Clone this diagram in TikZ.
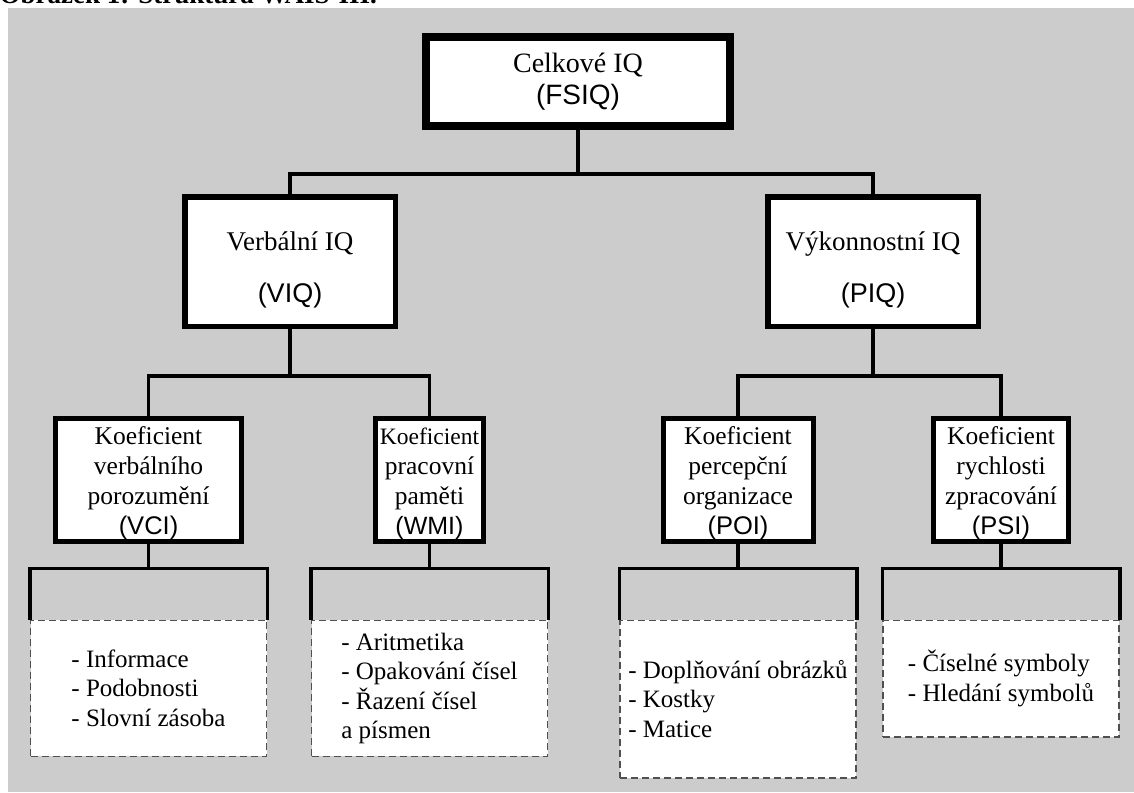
\documentclass[tikz,border=0pt]{standalone}
\usepackage{fontspec}
\setmainfont{Liberation Serif}
\setsansfont{Liberation Sans}
\usetikzlibrary{positioning}
\definecolor{bgGrey}{HTML}{CCCCCC}
\definecolor{dashGrey}{HTML}{505050}
\newcommand{\abbr}[1]{{\sffamily #1}}

\begin{document}
\begin{tikzpicture}[x=1pt, y=-1pt,
  node distance=75.5pt,
  topbox/.style={draw, fill=white, line width=8pt, minimum width=304pt,
                 minimum height=89pt, align=center, inner sep=0pt,
                 font=\fontsize{28}{32}\selectfont},
  iqbox/.style={draw, fill=white, line width=5.5pt, minimum width=210.5pt,
                minimum height=129.5pt, align=center, inner sep=0pt,
                font=\fontsize{27}{31}\selectfont},
  idxbox/.style={draw, fill=white, line width=5pt, minimum height=123pt,
                 align=center, inner sep=0pt,
                 font=\fontsize{25.5}{30}\selectfont},
  listbox/.style={draw=dashGrey, fill=white, line width=1.5pt,
                  dash pattern=on 7pt off 4pt, minimum width=236pt,
                  align=left, inner sep=0pt,
                  font=\fontsize{25}{29.5}\selectfont},
  link/.style={line width=3.5pt}
]
\useasboundingbox (0,0) rectangle (1134,792);
% caption, cut off by the page edge
\node[anchor=base west, font=\fontsize{27}{30}\selectfont\bfseries] (caption) at (-4,4) {Obrázek 1: Struktura WAIS-III.};
\fill[bgGrey] (8,8) rectangle (1134,792);

% IQ levels
\node[topbox] (fsiq) at (578,81.5)  {Celkové IQ\\\abbr{(FSIQ)}};
\node[iqbox]  (viq)  at (290,261.5) {\rule{0pt}{35pt}Verbální IQ\\[21pt]\abbr{(VIQ)}};
\node[iqbox]  (piq)  at (873,261.5) {\rule{0pt}{35pt}Výkonnostní IQ\\[21pt]\abbr{(PIQ)}};

% index scores
\node[idxbox, minimum width=186pt] (vci) at (148.5,480)
  {\rule{0pt}{24pt}Koeficient\\verbálního\\porozumění\\\abbr{(VCI)}};
\node[idxbox, minimum width=108pt] (wmi) at (429.5,480)
  {\fontsize{23.5}{30}\selectfont\rule{0pt}{24pt}Koeficient\\pracovní\\paměti\\\fontsize{25}{30}\selectfont\abbr{(WMI)}};
\node[idxbox, minimum width=150pt] (poi) at (738,480)
  {\rule{0pt}{24pt}Koeficient\\percepční\\organizace\\\abbr{(POI)}};
\node[idxbox, minimum width=134.5pt] (psi) at (1001,480)
  {\rule{0pt}{24pt}Koeficient\\rychlosti\\zpracování\\\abbr{(PSI)}};

% subtests
\node[listbox, minimum height=136pt, below=of vci] (vcil)
  {- Informace\\- Podobnosti\\- Slovní zásoba};
\node[listbox, minimum height=136pt, below=of wmi] (wmil)
  {- Aritmetika\\- Opakování čísel\\- Řazení čísel\\a písmen};
\node[listbox, minimum height=157.5pt, below=of poi] (poil)
  {- Doplňování obrázků\\- Kostky\\- Matice};
\node[listbox, minimum height=116.5pt, below=of psi] (psil)
  {- Číselné symboly\\- Hledání symbolů};

% connectors
\draw[link] (fsiq.south) -- ++(0,44) coordinate (fsiqbar);
\draw[link] (viq.north) |- (fsiqbar) -| (piq.north);
\draw[link] (viq.south) -- ++(0,47) coordinate (viqbar);
\draw[link] (vci.north) |- (viqbar) -| (wmi.north);
\draw[link] (piq.south) -- ++(0,47) coordinate (piqbar);
\draw[link] (poi.north) |- (piqbar) -| (psi.north);
\foreach \idx in {vci,wmi,poi,psi}{
  \draw[link] (\idx.south) -- ++(0,24.5) coordinate (\idx bar);
  \draw[link] (\idx l.north west) |- (\idx bar) -| (\idx l.north east);
}
\end{tikzpicture}
\end{document}
